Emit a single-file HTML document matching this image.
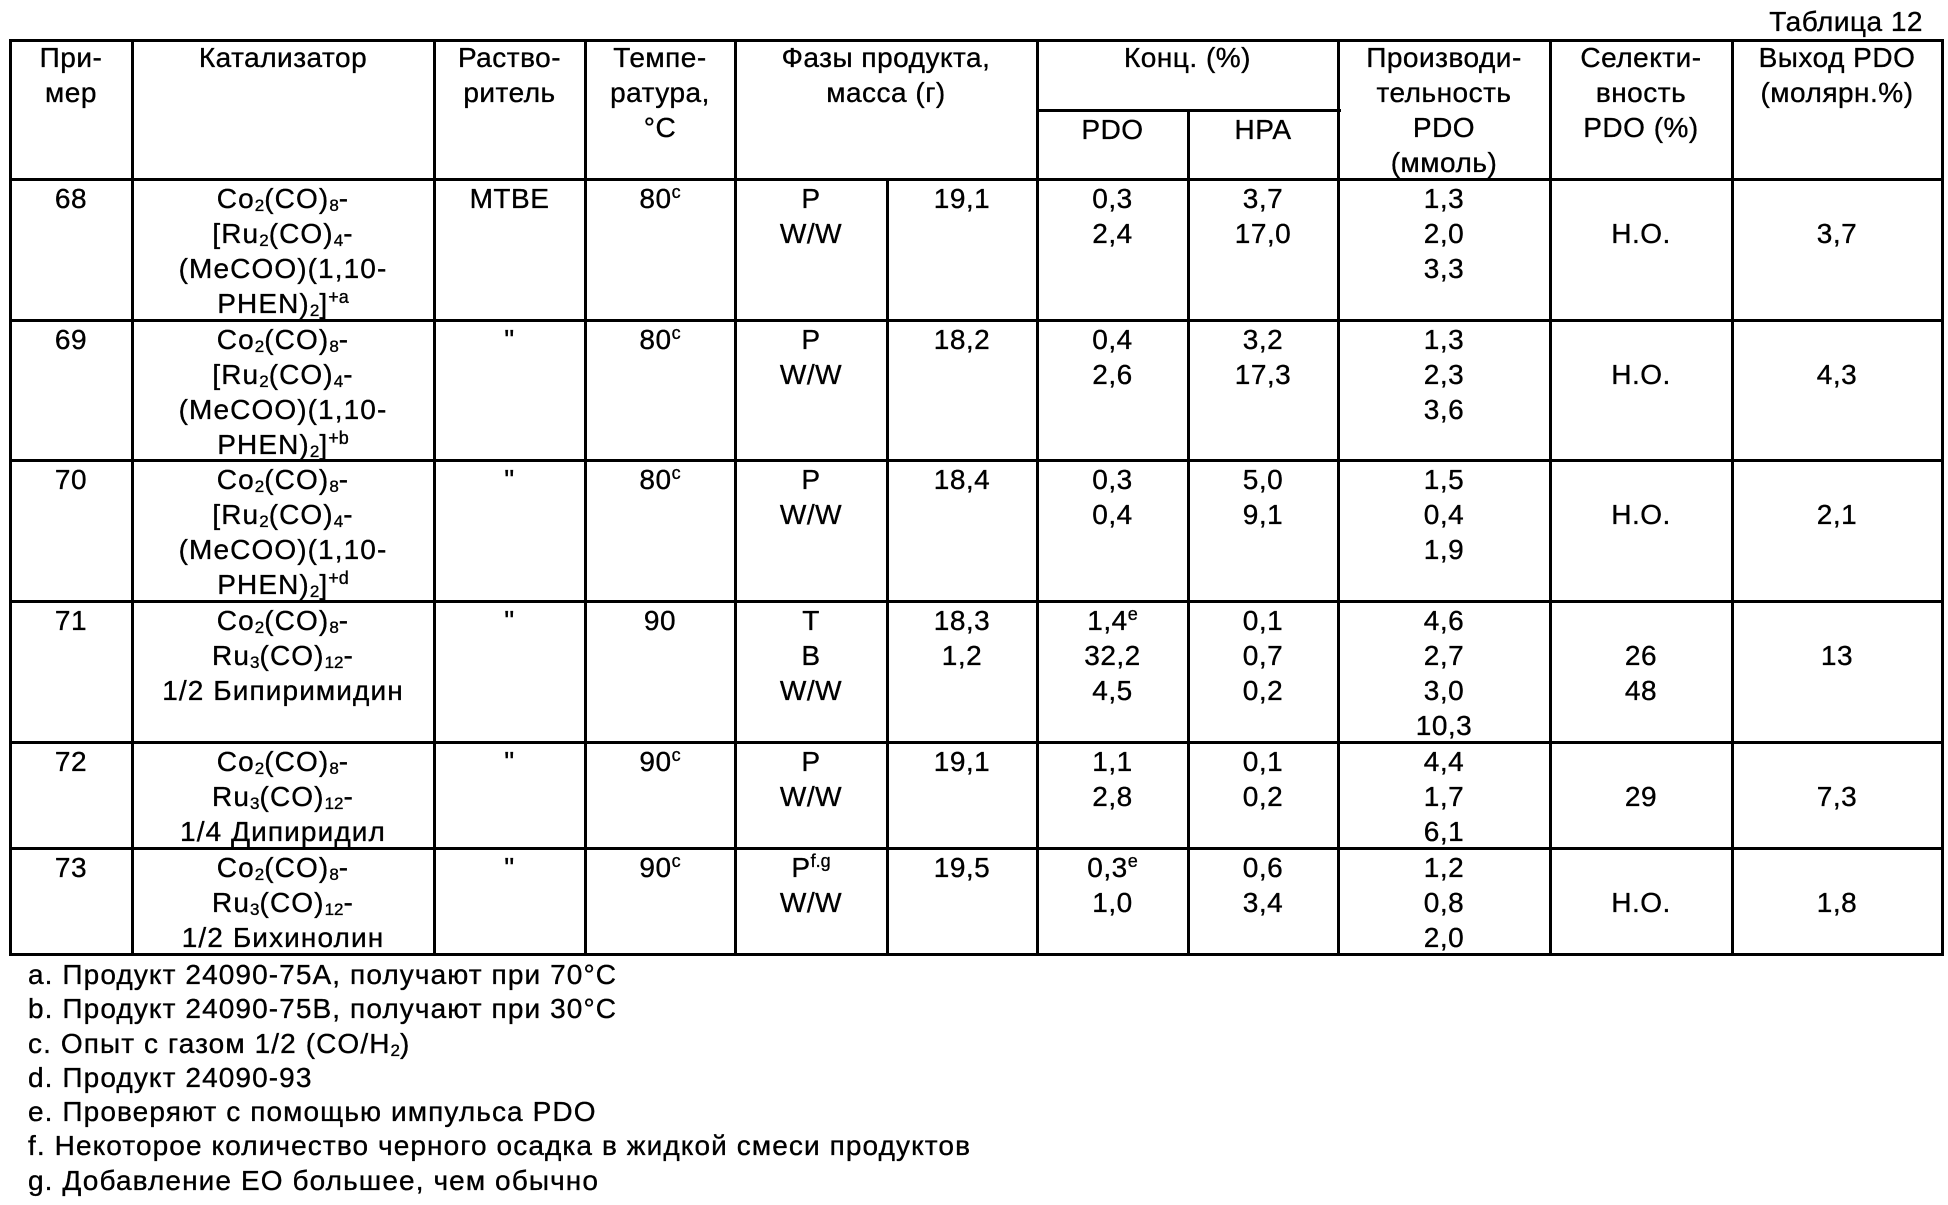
<!DOCTYPE html>
<html>
<head>
<meta charset="utf-8">
<style>
html,body{margin:0;padding:0;background:#fff;}
#p{position:relative;width:1948px;height:1205px;overflow:hidden;background:#fff;color:#000;font-family:"Liberation Sans","Noto Sans CJK SC",sans-serif;font-size:28px;-webkit-text-stroke:0.35px #000;}
.c{position:absolute;text-align:center;line-height:35px;white-space:nowrap;letter-spacing:0.5px;}
.h{position:absolute;background:#000;height:3px;}
.v{position:absolute;background:#000;width:3px;}
sub{font-size:17px;vertical-align:-3px;line-height:0;letter-spacing:0;}
sup{font-size:18px;vertical-align:10px;line-height:0;letter-spacing:0;}
.fn{position:absolute;left:28px;top:958px;line-height:34.3px;white-space:nowrap;letter-spacing:1.1px;}
.cat{letter-spacing:1.1px;}
</style>
</head>
<body>
<div id="p">
<div class="c" style="left:600px;width:1323px;top:4px;text-align:right;">Таблица 12</div>

<!-- horizontal lines -->
<div class="h" style="left:9px;top:39px;width:1935px;"></div>
<div class="h" style="left:1036px;top:109px;width:305px;"></div>
<div class="h" style="left:9px;top:178px;width:1935px;"></div>
<div class="h" style="left:9px;top:319px;width:1935px;"></div>
<div class="h" style="left:9px;top:459px;width:1935px;"></div>
<div class="h" style="left:9px;top:600px;width:1935px;"></div>
<div class="h" style="left:9px;top:741px;width:1935px;"></div>
<div class="h" style="left:9px;top:847px;width:1935px;"></div>
<div class="h" style="left:9px;top:953px;width:1935px;"></div>

<!-- vertical lines -->
<div class="v" style="left:9px;top:39px;height:917px;"></div>
<div class="v" style="left:131px;top:39px;height:917px;"></div>
<div class="v" style="left:433px;top:39px;height:917px;"></div>
<div class="v" style="left:584px;top:39px;height:917px;"></div>
<div class="v" style="left:734px;top:39px;height:917px;"></div>
<div class="v" style="left:886px;top:178px;height:778px;"></div>
<div class="v" style="left:1036px;top:39px;height:917px;"></div>
<div class="v" style="left:1187px;top:109px;height:847px;"></div>
<div class="v" style="left:1337px;top:39px;height:917px;"></div>
<div class="v" style="left:1549px;top:39px;height:917px;"></div>
<div class="v" style="left:1731px;top:39px;height:917px;"></div>
<div class="v" style="left:1941px;top:39px;height:917px;"></div>

<!-- header -->
<div class="c" style="left:10px;width:122px;top:40px;">При-<br>мер</div>
<div class="c" style="left:132px;width:302px;top:40px;">Катализатор</div>
<div class="c" style="left:434px;width:151px;top:40px;">Раство-<br>ритель</div>
<div class="c" style="left:585px;width:150px;top:40px;">Темпе-<br>ратура,<br>°C</div>
<div class="c" style="left:735px;width:302px;top:40px;">Фазы продукта,<br>масса (г)</div>
<div class="c" style="left:1037px;width:301px;top:40px;">Конц. (%)</div>
<div class="c" style="left:1037px;width:151px;top:112px;">PDO</div>
<div class="c" style="left:1188px;width:150px;top:112px;">HPA</div>
<div class="c" style="left:1338px;width:212px;top:40px;">Производи-<br>тельность<br>PDO<br>(ммоль)</div>
<div class="c" style="left:1550px;width:182px;top:40px;">Селекти-<br>вность<br>PDO (%)</div>
<div class="c" style="left:1732px;width:210px;top:40px;">Выход PDO<br>(молярн.%)</div>

<!-- row 68 -->
<div class="c" style="left:10px;width:122px;top:181px;">68</div>
<div class="c cat" style="left:132px;width:302px;top:181px;">Co<sub>2</sub>(CO)<sub>8</sub>-<br>[Ru<sub>2</sub>(CO)<sub>4</sub>-<br>(MeCOO)(1,10-<br>PHEN)<sub>2</sub>]<sup>+a</sup></div>
<div class="c" style="left:434px;width:151px;top:181px;">MTBE</div>
<div class="c" style="left:585px;width:150px;top:181px;">80<sup>c</sup></div>
<div class="c" style="left:735px;width:152px;top:181px;">P<br>W/W</div>
<div class="c" style="left:887px;width:150px;top:181px;">19,1</div>
<div class="c" style="left:1037px;width:151px;top:181px;">0,3<br>2,4</div>
<div class="c" style="left:1188px;width:150px;top:181px;">3,7<br>17,0</div>
<div class="c" style="left:1338px;width:212px;top:181px;">1,3<br>2,0<br>3,3</div>
<div class="c" style="left:1550px;width:182px;top:216px;">Н.О.</div>
<div class="c" style="left:1732px;width:210px;top:216px;">3,7</div>

<!-- row 69 -->
<div class="c" style="left:10px;width:122px;top:322px;">69</div>
<div class="c cat" style="left:132px;width:302px;top:322px;">Co<sub>2</sub>(CO)<sub>8</sub>-<br>[Ru<sub>2</sub>(CO)<sub>4</sub>-<br>(MeCOO)(1,10-<br>PHEN)<sub>2</sub>]<sup>+b</sup></div>
<div class="c" style="left:434px;width:151px;top:322px;">"</div>
<div class="c" style="left:585px;width:150px;top:322px;">80<sup>c</sup></div>
<div class="c" style="left:735px;width:152px;top:322px;">P<br>W/W</div>
<div class="c" style="left:887px;width:150px;top:322px;">18,2</div>
<div class="c" style="left:1037px;width:151px;top:322px;">0,4<br>2,6</div>
<div class="c" style="left:1188px;width:150px;top:322px;">3,2<br>17,3</div>
<div class="c" style="left:1338px;width:212px;top:322px;">1,3<br>2,3<br>3,6</div>
<div class="c" style="left:1550px;width:182px;top:357px;">Н.О.</div>
<div class="c" style="left:1732px;width:210px;top:357px;">4,3</div>

<!-- row 70 -->
<div class="c" style="left:10px;width:122px;top:462px;">70</div>
<div class="c cat" style="left:132px;width:302px;top:462px;">Co<sub>2</sub>(CO)<sub>8</sub>-<br>[Ru<sub>2</sub>(CO)<sub>4</sub>-<br>(MeCOO)(1,10-<br>PHEN)<sub>2</sub>]<sup>+d</sup></div>
<div class="c" style="left:434px;width:151px;top:462px;">"</div>
<div class="c" style="left:585px;width:150px;top:462px;">80<sup>c</sup></div>
<div class="c" style="left:735px;width:152px;top:462px;">P<br>W/W</div>
<div class="c" style="left:887px;width:150px;top:462px;">18,4</div>
<div class="c" style="left:1037px;width:151px;top:462px;">0,3<br>0,4</div>
<div class="c" style="left:1188px;width:150px;top:462px;">5,0<br>9,1</div>
<div class="c" style="left:1338px;width:212px;top:462px;">1,5<br>0,4<br>1,9</div>
<div class="c" style="left:1550px;width:182px;top:497px;">Н.О.</div>
<div class="c" style="left:1732px;width:210px;top:497px;">2,1</div>

<!-- row 71 -->
<div class="c" style="left:10px;width:122px;top:603px;">71</div>
<div class="c cat" style="left:132px;width:302px;top:603px;">Co<sub>2</sub>(CO)<sub>8</sub>-<br>Ru<sub>3</sub>(CO)<sub>12</sub>-<br>1/2 Бипиримидин</div>
<div class="c" style="left:434px;width:151px;top:603px;">"</div>
<div class="c" style="left:585px;width:150px;top:603px;">90</div>
<div class="c" style="left:735px;width:152px;top:603px;">T<br>B<br>W/W</div>
<div class="c" style="left:887px;width:150px;top:603px;">18,3<br>1,2</div>
<div class="c" style="left:1037px;width:151px;top:603px;">1,4<sup>e</sup><br>32,2<br>4,5</div>
<div class="c" style="left:1188px;width:150px;top:603px;">0,1<br>0,7<br>0,2</div>
<div class="c" style="left:1338px;width:212px;top:603px;">4,6<br>2,7<br>3,0<br>10,3</div>
<div class="c" style="left:1550px;width:182px;top:638px;">26<br>48</div>
<div class="c" style="left:1732px;width:210px;top:638px;">13</div>

<!-- row 72 -->
<div class="c" style="left:10px;width:122px;top:744px;">72</div>
<div class="c cat" style="left:132px;width:302px;top:744px;">Co<sub>2</sub>(CO)<sub>8</sub>-<br>Ru<sub>3</sub>(CO)<sub>12</sub>-<br>1/4 Дипиридил</div>
<div class="c" style="left:434px;width:151px;top:744px;">"</div>
<div class="c" style="left:585px;width:150px;top:744px;">90<sup>c</sup></div>
<div class="c" style="left:735px;width:152px;top:744px;">P<br>W/W</div>
<div class="c" style="left:887px;width:150px;top:744px;">19,1</div>
<div class="c" style="left:1037px;width:151px;top:744px;">1,1<br>2,8</div>
<div class="c" style="left:1188px;width:150px;top:744px;">0,1<br>0,2</div>
<div class="c" style="left:1338px;width:212px;top:744px;">4,4<br>1,7<br>6,1</div>
<div class="c" style="left:1550px;width:182px;top:779px;">29</div>
<div class="c" style="left:1732px;width:210px;top:779px;">7,3</div>

<!-- row 73 -->
<div class="c" style="left:10px;width:122px;top:850px;">73</div>
<div class="c cat" style="left:132px;width:302px;top:850px;">Co<sub>2</sub>(CO)<sub>8</sub>-<br>Ru<sub>3</sub>(CO)<sub>12</sub>-<br>1/2 Бихинолин</div>
<div class="c" style="left:434px;width:151px;top:850px;">"</div>
<div class="c" style="left:585px;width:150px;top:850px;">90<sup>c</sup></div>
<div class="c" style="left:735px;width:152px;top:850px;">P<sup>f.g</sup><br>W/W</div>
<div class="c" style="left:887px;width:150px;top:850px;">19,5</div>
<div class="c" style="left:1037px;width:151px;top:850px;">0,3<sup>e</sup><br>1,0</div>
<div class="c" style="left:1188px;width:150px;top:850px;">0,6<br>3,4</div>
<div class="c" style="left:1338px;width:212px;top:850px;">1,2<br>0,8<br>2,0</div>
<div class="c" style="left:1550px;width:182px;top:885px;">Н.О.</div>
<div class="c" style="left:1732px;width:210px;top:885px;">1,8</div>

<!-- footnotes -->
<div class="fn">a. Продукт 24090-75A, получают при 70°C<br>b. Продукт 24090-75B, получают при 30°C<br>c. Опыт с газом 1/2 (CO/H<sub>2</sub>)<br>d. Продукт 24090-93<br>e. Проверяют с помощью импульса PDO<br>f. Некоторое количество черного осадка в жидкой смеси продуктов<br>g. Добавление EO большее, чем обычно</div>
</div>
</body>
</html>
